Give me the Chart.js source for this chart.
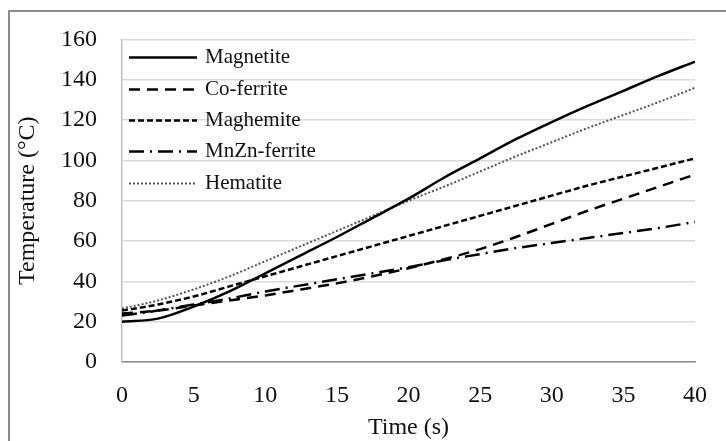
<!DOCTYPE html>
<html>
<head>
<meta charset="utf-8">
<script src="https://cdn.jsdelivr.net/npm/chart.js@4.4.1/dist/chart.umd.min.js"></script>
<style>
html,body{margin:0;padding:0;background:#fff;}
#wrap{width:726px;height:441px;position:relative;}
</style>
</head>
<body>
<div id="wrap"><canvas id="c" width="726" height="441"></canvas></div>
<script>
const times = [0, 2.5, 5, 7.5, 10, 12.5, 15, 17.5, 20, 22.5, 25, 27.5, 30, 32.5, 35, 37.5, 40];
const magnetite = [20, 21.5, 27.5, 35, 44, 53, 62, 71.5, 81, 91.5, 101, 110.5, 119, 127, 134.5, 142, 149];
const coFerrite = [24, 25.5, 28, 30.5, 33, 36, 39, 42.5, 46.5, 51, 56, 62, 68.5, 75, 81, 87, 93];
const maghemite = [25.5, 28.5, 32.5, 37.5, 42.5, 47.5, 52.5, 57.5, 62.5, 67.5, 72.5, 77.5, 82.5, 87.5, 92, 96.5, 101];
const mnznFerrite = [23, 25.5, 28.5, 31.5, 35, 38, 41, 44, 47, 50.5, 53.5, 56.5, 59, 61.5, 64, 66.5, 69.5];
const hematite = [26.5, 30.5, 36, 42.5, 50, 57.5, 65, 72.5, 80, 87, 94.5, 102, 109, 116, 122.5, 129, 136];
const seriesNames = ['Magnetite', 'Co-ferrite', 'Maghemite', 'MnZn-ferrite', 'Hematite'];
const xTicks = [0, 5, 10, 15, 20, 25, 30, 35, 40];
const yTicks = [0, 20, 40, 60, 80, 100, 120, 140, 160];

const SERIF = '"Liberation Serif", "Times New Roman", serif';

function pts(arr) { return arr.map((v, i) => ({x: times[i], y: v})); }

const styles = [
  {color: '#000', width: 2.5, dash: []},
  {color: '#000', width: 2.5, dash: [11, 7]},
  {color: '#000', width: 2.5, dash: [6, 3]},
  {color: '#000', width: 2.5, dash: [15, 6, 2, 6]},
  {color: '#555', width: 2, dash: [2, 2]}
];
const values = [magnetite, coFerrite, maghemite, mnznFerrite, hematite];

const datasets = values.map((v, i) => ({
  label: seriesNames[i],
  data: pts(v),
  borderColor: styles[i].color,
  borderWidth: styles[i].width,
  borderDash: styles[i].dash,
  pointRadius: 0,
  fill: false,
  cubicInterpolationMode: 'monotone',
  tension: 0.4
}));

const framePlugin = {
  id: 'frame',
  beforeDraw(chart) {
    const ctx = chart.ctx;
    ctx.save();
    ctx.strokeStyle = '#8a8a8a';
    ctx.lineWidth = 2;
    ctx.beginPath();
    ctx.moveTo(9, 441);
    ctx.lineTo(9, 11);
    ctx.lineTo(726, 11);
    ctx.stroke();
    ctx.restore();
  }
};

const legendPlugin = {
  id: 'innerLegend',
  afterDatasetsDraw(chart) {
    const ctx = chart.ctx;
    const area = chart.chartArea;
    ctx.save();
    const x0 = area.left + 7, x1 = area.left + 75, tx = area.left + 83;
    const y0 = area.top + 18, step = 31.3;
    ctx.font = '21px ' + SERIF;
    ctx.textBaseline = 'middle';
    ctx.textAlign = 'left';
    chart.data.datasets.forEach((ds, i) => {
      const y = Math.round(y0 + i * step) + 0.5;
      ctx.strokeStyle = ds.borderColor;
      ctx.lineWidth = ds.borderWidth;
      ctx.setLineDash(ds.borderDash);
      ctx.beginPath();
      ctx.moveTo(x0, y);
      ctx.lineTo(x1, y);
      ctx.stroke();
      ctx.setLineDash([]);
      ctx.fillStyle = '#111';
      ctx.fillText(ds.label, tx, y);
    });
    ctx.restore();
  }
};

new Chart(document.getElementById('c'), {
  type: 'line',
  data: {datasets},
  plugins: [framePlugin, legendPlugin],
  options: {
    responsive: false,
    animation: false,
    devicePixelRatio: 1,
    layout: {padding: {left: 0, top: 34, right: 16, bottom: 0}},
    plugins: {legend: {display: false}, tooltip: {enabled: false}},
    scales: {
      x: {
        type: 'linear',
        min: 0, max: 40,
        afterBuildTicks(scale) { scale.ticks = xTicks.map(v => ({value: v})); },
        afterFit(scale) { scale.height = 79; },
        grid: {display: false, drawTicks: false},
        border: {display: true, color: '#8c8c8c', width: 1.5},
        ticks: {padding: 19, color: '#111', font: {family: SERIF, size: 24}, maxRotation: 0},
        title: {display: true, text: 'Time (s)', color: '#111', font: {family: SERIF, size: 24, lineHeight: 1}, padding: {top: 0, bottom: 1}}
      },
      y: {
        min: 0, max: 160,
        afterBuildTicks(scale) { scale.ticks = yTicks.map(v => ({value: v})); },
        afterFit(scale) { scale.width = 122; },
        grid: {color: '#d9d9d9', lineWidth: 1.5, drawTicks: false},
        border: {display: true, color: '#c0c0c0', width: 1.5},
        ticks: {padding: 25, color: '#111', font: {family: SERIF, size: 24}},
        title: {display: true, text: 'Temperature (°C)', color: '#111', font: {family: SERIF, size: 24, lineHeight: 1}, padding: {top: 16, bottom: 0}}
      }
    }
  }
});
</script>
</body>
</html>
